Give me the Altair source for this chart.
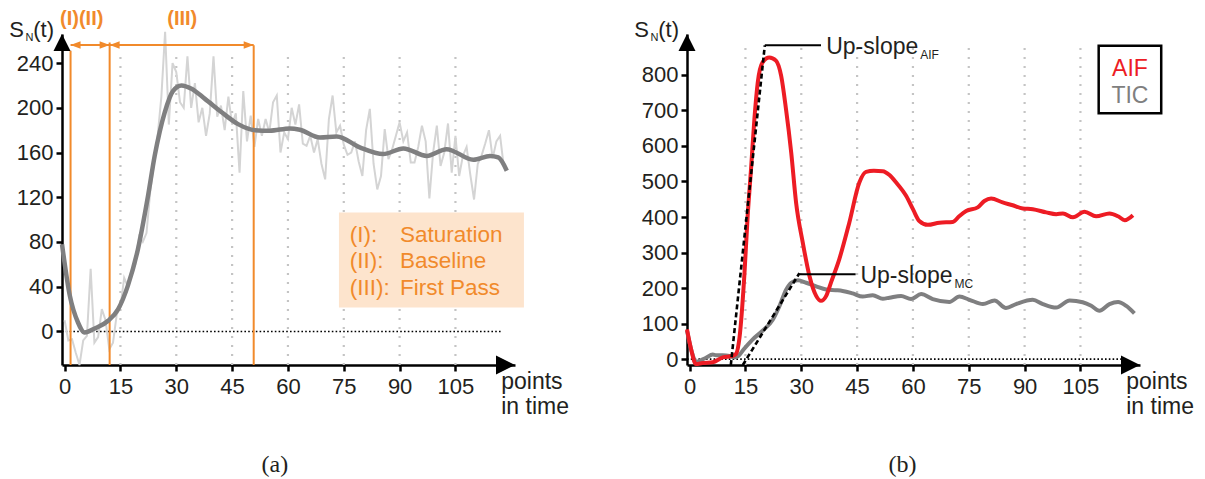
import altair as alt
import pandas as pd

# ---------------- style constants ----------------
FONT = "Liberation Sans"
SERIF = "Liberation Serif"
INK = "#231f20"
ORANGE = "#f18a2b"
PEACH = "#fde4cd"
RED = "#ed1c24"
DARK = "#7f7f80"
LIGHT = "#d4d4d4"
GRID = "#c4c4c4"

W, H = 453, 331

# ---------------- shared x data ----------------
X_DOMAIN = [-0.7, 121.0]
X_TICKS = [0, 15, 30, 45, 60, 75, 90, 105]
GRID_T = [15, 30, 45, 60, 75, 90, 105]
ZERO_LINE_T = [-0.7, 117.5]
XLABEL_T = 117.3

# ---------------- panel (a) ----------------
A_Y_DOMAIN = [-30, 266]
A_Y_TICKS = [0, 40, 80, 120, 160, 200, 240]
A_GRID_TOP = 249

a_raw_t = list(range(0, 119))
a_raw_v = [10, -8, -7, -19, -30, -8, -4, 56, -10, -5,
           20, 10, -16, -10, 15, 22, 48, 40, 55, 60,
           85, 80, 88, 125, 150, 175, 210, 268, 185, 240,
           232, 205, 200, 246, 200, 222, 187, 200, 175, 195,
           246, 192, 202, 180, 210, 185, 195, 142, 215, 170,
           193, 165, 190, 175, 190, 178, 205, 211, 160, 178,
           172, 200, 185, 203, 168, 166, 175, 160, 172, 150,
           136, 190, 211, 178, 184, 167, 158, 160, 170, 152,
           139, 180, 199, 150, 127, 139, 181, 154, 163, 175,
           187, 170, 178, 151, 151, 165, 184, 170, 119, 160,
           184, 148, 160, 186, 142, 175, 139, 157, 165, 140,
           118, 150, 157, 168, 180, 155, 170, 175, 147]

a_fit_t = [-0.7, 1.4, 3.6, 5.4, 8.1, 11.7, 14.4, 17.0, 19.7, 22.4, 24.2,
           26.9, 29.1, 31.4, 34.1, 37.7, 42.2, 46.6, 51.1, 55.1, 60.5,
           63.2, 68.6, 73.1, 79.3, 85.6, 91.0, 97.3, 102.6, 109.8, 114.3,
           116.5, 118.8]
a_fit_v = [78, 32, 8, -1, 2.7, 9.6, 20, 41, 73.6, 121, 157,
           196, 215, 220, 217, 208, 196, 185.4, 180, 179.5, 181.6,
           180.4, 173.5, 174.4, 164.6, 158.6, 163.7, 157, 163, 153.6, 157,
           155.6, 143.7]

a_phase_t = [1.6, 12.1, 50.8]
a_phase_top = [251, 258.5, 256]
a_arrow_from = [1.6, 12.1]
a_arrow_to = [12.1, 50.8]
a_arrow_v = 256.1
a_phase_labels = ["(I)(II)", "(III)"]
a_phase_label_t = [4.6, 31.6]
a_phase_label_v = 273.7

a_box = [73.7, 123.4, 21.5, 106.4]          # t0, t1, v0, v1
a_leg_keys = ["(I):", "(II):", "(III):"]
a_leg_names = ["Saturation", "Baseline", "First Pass"]
a_leg_v = [80.2, 56.4, 32.5]
a_leg_key_t = 76.6
a_leg_name_t = 90.1
a_caption = ("(a)", 56.5, -126)

# ---------------- panel (b) ----------------
B_Y_DOMAIN = [-16.5, 915]
B_Y_TICKS = [0, 100, 200, 300, 400, 500, 600, 700, 800]
B_GRID_TOP = 877

b_aif_t = [-0.7, 0.4, 1.7, 3.5, 6.2, 8.9, 11.6, 12.5, 13.4, 14.7, 15.6,
           16.5, 17.4, 18.3, 19.6, 21.4, 23.2, 24.6, 25.9, 27.3, 28.6,
           30.4, 32.2, 34.0, 35.3, 36.7, 38.0, 40.2, 42.9, 45.6, 47.4,
           49.5, 51.9, 53.7, 55.5, 58.2, 60.0, 61.7, 64.0, 67.1, 70.7,
           72.5, 74.3, 77.4, 79.2, 81.0, 84.1, 86.8, 89.5, 92.2, 95.8,
           98.5, 100.3, 103.0, 106.1, 109.2, 112.8, 115.1, 116.9, 119.1]
b_aif_v = [84, 28, -14, -11, -9, 5, 9, 15, 60, 234, 403,
           535, 675, 778, 835, 849, 840, 797, 703, 581, 441,
           328, 234, 178, 164, 178, 216, 281, 384, 497, 527,
           530, 529, 518, 497, 459, 422, 389, 378, 384, 386,
           403, 417, 427, 445, 452, 441, 433, 424, 422, 413,
           408, 410, 399, 415, 402, 410, 402, 391, 405]

b_tic_t = [-0.7, 0.6, 1.7, 4.4, 6.2, 7.1, 8.9, 10.7, 12.0, 13.2, 14.5,
           16.9, 19.6, 22.3, 24.1, 25.9, 27.3, 29.1, 31.3, 34.0, 36.7,
           39.3, 41.1, 43.8, 46.5, 49.2, 51.9, 53.7, 56.8, 59.5, 62.2,
           65.3, 69.8, 72.5, 75.2, 78.8, 81.9, 85.0, 87.7, 92.2, 94.9,
           98.5, 102.1, 105.6, 107.9, 110.1, 112.8, 115.1, 117.3, 119.5]
b_tic_v = [80, 20, -8, 4, 13, 11, 11, 9, 5, 10, 27,
           55, 80, 110, 148, 195, 215, 222, 215, 205, 196,
           194, 192, 185, 176, 180, 170, 173, 178, 169, 183,
           169, 161, 176, 167, 155, 165, 144, 155, 167, 155,
           145, 165, 160, 150, 136, 155, 161, 150, 129]

b_slope_names = ["AIF", "MC"]
b_slope_t0 = [11.07, 14.3]
b_slope_v0 = [-16.5, -16.5]
b_slope_t1 = [20.2, 29.5]
b_slope_v1 = [883, 242]
b_lead_t0 = [20.2, 29.5]
b_lead_t1 = [35.3, 44.6]
b_lead_v = [883, 239]
b_text_t = [36.7, 45.9]

b_box = [109.9, 126.7, 692, 882]
b_leg_names = ["AIF", "TIC"]
b_leg_colors = [RED, DARK]
b_leg_v = [795.4, 720.2]
b_leg_t = 118.3
b_caption = ("(b)", 57.2, -319)

LEFT_HEAD = "M0,0L2,-0.75L2,0.75Z"
RIGHT_HEAD = "M0,0L-2,-0.75L-2,0.75Z"
UP_ARROW = "M0,0L1,2L-1,2Z"
RIGHT_ARROW = "M0,0L-2,-1L-2,1Z"

xs = alt.Scale(domain=X_DOMAIN, nice=False, zero=False)


def axis(values, pad):
    return alt.Axis(values=values, title=None, grid=False, domainColor="black",
                    domainWidth=2.5, tickColor="black", tickWidth=2.5, tickSize=6,
                    labelFont=FONT, labelFontSize=22, labelColor=INK,
                    labelPadding=pad, labelFlush=False, labelOverlap=False)


XAX = axis(X_TICKS, 5)


def panel(ydomain, yticks, grid_top, layers_fn):
    ys = alt.Scale(domain=ydomain, nice=False, zero=False)
    yax = axis(yticks, 3)

    def X(f):
        return alt.X(f"{f}:Q", scale=xs, axis=XAX)

    def Y(f):
        return alt.Y(f"{f}:Q", scale=ys, axis=yax)

    ymin, ymax = ydomain
    base = []
    grid_df = pd.DataFrame({"t": GRID_T, "lo": [ymin] * len(GRID_T),
                            "hi": [grid_top] * len(GRID_T)})
    base.append(alt.Chart(grid_df).mark_rule(color=GRID, strokeWidth=2.2,
                                             strokeDash=[2, 7]).encode(
        x=X("t"), y=Y("lo"), y2="hi"))
    zero_df = pd.DataFrame({"t0": [ZERO_LINE_T[0]], "t1": [ZERO_LINE_T[1]], "v": [0]})
    base.append(alt.Chart(zero_df).mark_rule(color="black", strokeWidth=1.6,
                                             strokeDash=[1.6, 2.2]).encode(
        x=X("t0"), x2="t1", y=Y("v")))
    base += layers_fn(X, Y)
    # axis arrowheads
    up_df = pd.DataFrame({"t": [X_DOMAIN[0]], "v": [ymax]})
    base.append(alt.Chart(up_df).mark_point(shape=UP_ARROW, size=289, filled=True,
                                            color="black", opacity=1, strokeWidth=0).encode(
        x=X("t"), y=Y("v")))
    rt_df = pd.DataFrame({"t": [X_DOMAIN[1]], "v": [ymin]})
    base.append(alt.Chart(rt_df).mark_point(shape=RIGHT_ARROW, size=361, filled=True,
                                            color="black", opacity=1, strokeWidth=0).encode(
        x=X("t"), y=Y("v")))
    # S_N(t) label
    lab_df = pd.DataFrame({"t": [X_DOMAIN[0]], "v": [ymax]})
    for txt, dx, dy, fs in [("S", -38, 3, 22), ("N", -28.5, 7, 11), ("(t)", -8, 3, 22)]:
        base.append(alt.Chart(lab_df).mark_text(text=txt, align="right", baseline="alphabetic",
                                                dx=dx, dy=dy, font=FONT, fontSize=fs,
                                                color=INK).encode(x=X("t"), y=Y("v")))
    # points in time
    pit_df = pd.DataFrame({"t": [XLABEL_T], "v": [ymin]})
    base.append(alt.Chart(pit_df).mark_text(text="points\nin time", lineBreak="\n",
                                            lineHeight=25, align="left",
                                            baseline="alphabetic", dy=24, font=FONT,
                                            fontSize=23, color=INK).encode(
        x=X("t"), y=Y("v")))
    return alt.layer(*base).properties(width=W, height=H)


def layers_a(X, Y):
    out = []
    raw = pd.DataFrame({"t": a_raw_t, "v": a_raw_v})
    out.append(alt.Chart(raw).mark_line(color=LIGHT, strokeWidth=2).encode(x=X("t"), y=Y("v")))
    ph = pd.DataFrame({"t": a_phase_t, "lo": [A_Y_DOMAIN[0]] * 3, "hi": a_phase_top})
    out.append(alt.Chart(ph).mark_rule(color=ORANGE, strokeWidth=2).encode(
        x=X("t"), y=Y("lo"), y2="hi"))
    ar = pd.DataFrame({"t0": a_arrow_from, "t1": a_arrow_to, "v": [a_arrow_v] * 2})
    out.append(alt.Chart(ar).mark_rule(color=ORANGE, strokeWidth=2).encode(
        x=X("t0"), x2="t1", y=Y("v")))
    out.append(alt.Chart(ar).mark_point(shape=LEFT_HEAD, size=100, filled=True, color=ORANGE,
                                        opacity=1, strokeWidth=0).encode(x=X("t0"), y=Y("v")))
    out.append(alt.Chart(ar).mark_point(shape=RIGHT_HEAD, size=100, filled=True, color=ORANGE,
                                        opacity=1, strokeWidth=0).encode(x=X("t1"), y=Y("v")))
    fit = pd.DataFrame({"t": a_fit_t, "v": a_fit_v})
    out.append(alt.Chart(fit).mark_line(color=DARK, strokeWidth=4.5,
                                        interpolate="monotone").encode(x=X("t"), y=Y("v")))
    pl = pd.DataFrame({"t": a_phase_label_t, "v": [a_phase_label_v] * 2, "s": a_phase_labels})
    out.append(alt.Chart(pl).mark_text(align="center", baseline="alphabetic", font=FONT,
                                       fontSize=20, fontWeight="bold", color=ORANGE).encode(
        x=X("t"), y=Y("v"), text="s:N"))
    box = pd.DataFrame({"t0": [a_box[0]], "t1": [a_box[1]], "v0": [a_box[2]], "v1": [a_box[3]]})
    out.append(alt.Chart(box).mark_rect(color=PEACH).encode(
        x=X("t0"), x2="t1", y=Y("v0"), y2="v1"))
    lg = pd.DataFrame({"k": a_leg_keys, "n": a_leg_names, "v": a_leg_v,
                       "tk": [a_leg_key_t] * 3, "tn": [a_leg_name_t] * 3})
    out.append(alt.Chart(lg).mark_text(align="left", baseline="alphabetic", font=FONT,
                                       fontSize=22.5, color=ORANGE).encode(
        x=X("tk"), y=Y("v"), text="k:N"))
    out.append(alt.Chart(lg).mark_text(align="left", baseline="alphabetic", font=FONT,
                                       fontSize=22.5, color=ORANGE).encode(
        x=X("tn"), y=Y("v"), text="n:N"))
    cap = pd.DataFrame({"t": [a_caption[1]], "v": [a_caption[2]], "s": [a_caption[0]]})
    out.append(alt.Chart(cap).mark_text(align="center", baseline="alphabetic", font=SERIF,
                                        fontSize=24, color=INK).encode(
        x=X("t"), y=Y("v"), text="s:N"))
    return out


def layers_b(X, Y):
    out = []
    tic = pd.DataFrame({"t": b_tic_t, "v": b_tic_v})
    out.append(alt.Chart(tic).mark_line(color=DARK, strokeWidth=4,
                                        interpolate="monotone").encode(x=X("t"), y=Y("v")))
    aif = pd.DataFrame({"t": b_aif_t, "v": b_aif_v})
    out.append(alt.Chart(aif).mark_line(color=RED, strokeWidth=4,
                                        interpolate="monotone").encode(x=X("t"), y=Y("v")))
    sl = pd.DataFrame({"t0": b_slope_t0, "v0": b_slope_v0, "t1": b_slope_t1, "v1": b_slope_v1})
    out.append(alt.Chart(sl).mark_rule(color="black", strokeWidth=2.6, strokeDash=[5, 3]).encode(
        x=X("t0"), y=Y("v0"), x2="t1", y2="v1"))
    ld = pd.DataFrame({"t0": b_lead_t0, "t1": b_lead_t1, "v": b_lead_v,
                       "tt": b_text_t, "s": b_slope_names})
    out.append(alt.Chart(ld).mark_rule(color="black", strokeWidth=2).encode(
        x=X("t0"), x2="t1", y=Y("v")))
    out.append(alt.Chart(ld).mark_text(text="Up-slope", align="left", baseline="alphabetic",
                                       dy=8.5, font=FONT, fontSize=23, color=INK).encode(
        x=X("tt"), y=Y("v")))
    out.append(alt.Chart(ld).mark_text(align="left", baseline="alphabetic", dx=94, dy=13.5,
                                       font=FONT, fontSize=12, color=INK).encode(
        x=X("tt"), y=Y("v"), text="s:N"))
    box = pd.DataFrame({"t0": [b_box[0]], "t1": [b_box[1]], "v0": [b_box[2]], "v1": [b_box[3]]})
    out.append(alt.Chart(box).mark_rect(fill="white", stroke="black", strokeWidth=2.5).encode(
        x=X("t0"), x2="t1", y=Y("v0"), y2="v1"))
    lg = pd.DataFrame({"s": b_leg_names, "c": b_leg_colors, "v": b_leg_v, "t": [b_leg_t] * 2})
    out.append(alt.Chart(lg).mark_text(align="center", baseline="alphabetic", font=FONT,
                                       fontSize=23).encode(
        x=X("t"), y=Y("v"), text="s:N", color=alt.Color("c:N", scale=None)))
    cap = pd.DataFrame({"t": [b_caption[1]], "v": [b_caption[2]], "s": [b_caption[0]]})
    out.append(alt.Chart(cap).mark_text(align="center", baseline="alphabetic", font=SERIF,
                                        fontSize=24, color=INK).encode(
        x=X("t"), y=Y("v"), text="s:N"))
    return out


chart_a = panel(A_Y_DOMAIN, A_Y_TICKS, A_GRID_TOP, layers_a)
chart_b = panel(B_Y_DOMAIN, B_Y_TICKS, B_GRID_TOP, layers_b)

chart = alt.hconcat(chart_a, chart_b, spacing=172, bounds="flush").properties(
    padding=0, background="white"
).configure_view(stroke="transparent")

chart.save("out.html", embed_options={"renderer": "svg", "actions": False})
